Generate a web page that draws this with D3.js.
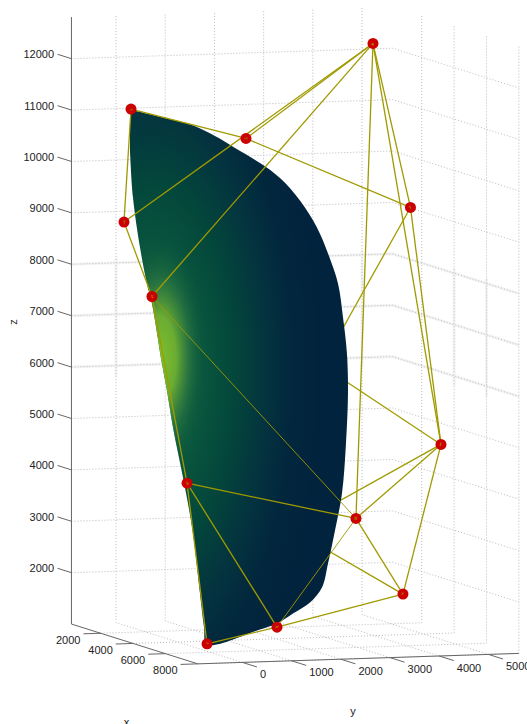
<!DOCTYPE html>
<html><head><meta charset="utf-8">
<style>html,body{margin:0;padding:0;background:#fff}svg{display:block}</style>
<script src="https://cdn.jsdelivr.net/npm/d3@7/dist/d3.min.js"></script>
</head><body><div id="c"></div>
<script>
// ---- data ----
const zTicks = [2000,3000,4000,5000,6000,7000,8000,9000,10000,11000,12000];
const xTicks = [2000,4000,6000,8000];
const yTicks = [0,1000,2000,3000,4000,5000];
const xRange = [200,8000], yRange = [-906,5620], zRange = [1000,12810];
const blurZ = [6000,7000,8000];
// control net
const netX = [2000,2000,4000,6000,8000,4000,6000,4000,4000,4000,4000,6000];
const netY = [-288,-431,-521,-467,-719,1390,1362,3971,4733,3625,5353,3922];
const netZ = [11178,8985,7738,4303,1384,10753,1445,12522,9307,3291,4677,2008];
// two net vertices hidden behind the surface
const hiddenX = [4000,4000];
const hiddenY = [2934,2284];
const hiddenZ = [6289,3138];
// net edges in front of the surface (indices into net*)
const frontEdges = [[0,1],[0,5],[5,8],[1,7],[5,7],[2,7],[1,2],[2,3],[3,4],[3,6],[3,9],[4,6],[6,11],[9,11],[11,10],[9,10],[9,7],[10,7],[8,7],[8,10]];
const thinEdges = [[2,9],[6,9]];
// edges that go behind it: [net index, hidden index]
const backEdges = [[8,0],[10,0],[10,1],[11,1]];
// surface silhouette at x = 4000
const surfaceX = 4000;
const surfaceY = [-968,-256,293,760,1167,1675,2081,2487,2832,3057,3260,3362,3442,3463,3422,3341,3199,3057,2934,2691,2345,2020,1674,597,537,455,313,150,-93,-216,-318,-521,-623,-764,-907,-968];
const surfaceZ = [11390,11202,11049,10820,10574,10267,9962,9513,8977,8464,7874,7210,6507,5728,4757,3786,3071,2433,1970,1686,1482,1298,1192,933,1266,1930,3102,4002,5177,5900,6429,7602,7994,8699,9676,10592];
const shadeOffsets = [0,.3,.5,.68,.82,1];
const shadeColors = ['#0f6242','#0a573e','#03463b','#04343f','#02283d','#02233d'];
const glowOffsets = [0,.35,.65,1];
const glowColors = ['#7fc02c','#70b032','#2f7a40','#0a573e'];
const glowOpacity = [1,.95,.7,0];

// ---- projection built from linear scales ----
const W = 527, H = 724;
const xToPx = d3.scaleLinear().domain([0,8000]).range([0,129.6]);
const yToPx = d3.scaleLinear().domain([0,5000]).range([112.8,358.8]);
const xToPy = d3.scaleLinear().domain([0,8000]).range([0,40.8]);
const yToPy = d3.scaleLinear().domain([0,5000]).range([0,-8]);
const zToPy = d3.scaleLinear().domain([0,10000]).range([673,159]);
const P = (x,y,z) => [xToPx(x)+yToPx(y), xToPy(x)+yToPy(y)+zToPy(z)];

const svg = d3.select('#c').append('svg').attr('width',W).attr('height',H);
const line = d3.line();
const [x0,x1] = xRange, [y0,y1] = yRange, [z0,z1] = zRange;
const path = (g,pts) => g.append('path').attr('d',line(pts)).attr('fill','none');

// ---- background grid ----
const blur = svg.append('g').attr('stroke','#f4f4f4').attr('stroke-width',3);
blurZ.forEach(z => path(blur,[P(x0,y0,z),P(x0,y1,z),P(x1,y1,z)]));
[[x0,0],[x0,5000],[4000,y1],[6000,y1]].forEach(([x,y]) => path(blur,[P(x,y,5800),P(x,y,8100)]));

const grid = svg.append('g').attr('stroke','#bbb').attr('stroke-width',1).attr('stroke-dasharray','1 2');
zTicks.forEach(z => path(grid,[P(x0,y0,z),P(x0,y1,z),P(x1,y1,z)]));
yTicks.forEach(y => path(grid,[P(x1,y,z0),P(x0,y,z0),P(x0,y,z1)]));
xTicks.forEach(x => path(grid,[P(x,y0,z0),P(x,y1,z0),P(x,y1,z1)]));

// ---- axes ----
const ax = svg.append('g').attr('stroke','#666').attr('stroke-width',1);
path(ax,[P(x0,y0,z1),P(x0,y0,z0),P(x1,y0,z0),P(x1,y1,z0)]);
zTicks.forEach(z => path(ax,[P(x0,y0,z),P(x0-860,y0,z)]));
xTicks.forEach(x => path(ax,[P(x,y0,z0),P(x,y0-350,z0)]));
yTicks.forEach(y => path(ax,[P(x1,y,z0),P(x1+900,y,z0)]));

// ---- net edges behind surface ----
const netP = netX.map((x,i) => P(x,netY[i],netZ[i]));
const hidP = hiddenX.map((x,i) => P(x,hiddenY[i],hiddenZ[i]));
const edgeStyle = g => g.attr('stroke','#a09a00').attr('stroke-width',1.3);
const back = svg.append('g').call(edgeStyle);
backEdges.forEach(([a,b]) => path(back,[netP[a],hidP[b]]));

// ---- surface ----
const defs = svg.append('defs');
const shade = defs.append('radialGradient').attr('id','shade').attr('gradientUnits','userSpaceOnUse')
  .attr('cx',0).attr('cy',0).attr('r',1).attr('gradientTransform','translate(150 370) scale(170 380)');
shadeOffsets.forEach((o,i) => shade.append('stop').attr('offset',o).attr('stop-color',shadeColors[i]));
const glow = defs.append('radialGradient').attr('id','glow').attr('gradientUnits','userSpaceOnUse')
  .attr('cx',0).attr('cy',0).attr('r',1).attr('gradientTransform','translate(160 358) scale(46 120)');
glowOffsets.forEach((o,i) => glow.append('stop').attr('offset',o).attr('stop-color',glowColors[i]).attr('stop-opacity',glowOpacity[i]));
const outline = d3.line().curve(d3.curveCatmullRom)(surfaceY.map((y,i) => P(surfaceX,y,surfaceZ[i])))+'Z';
svg.append('path').attr('d',outline).attr('fill','url(#shade)');
svg.append('path').attr('d',outline).attr('fill','url(#glow)');

// ---- front edges, markers, short edge tips inside the markers ----
const front = svg.append('g').call(edgeStyle);
frontEdges.forEach(([a,b]) => path(front,[netP[a],netP[b]]));
const thin = svg.append('g').attr('stroke','#a09a00').attr('stroke-width',.9);
thinEdges.forEach(([a,b]) => path(thin,[netP[a],netP[b]]));
svg.append('g').selectAll('circle').data(netP).join('circle')
  .attr('cx',d=>d[0]).attr('cy',d=>d[1]).attr('r',5.5).attr('fill','#cc0000');
const tips = svg.append('g').attr('stroke','#a09a00').attr('stroke-width',.8).attr('stroke-opacity',.7);
const tip = (a,b) => { const dx=b[0]-a[0], dy=b[1]-a[1], n=Math.hypot(dx,dy);
  path(tips,[a,[a[0]+dx/n*2,a[1]+dy/n*2]]); };
frontEdges.concat(thinEdges).forEach(([a,b]) => { tip(netP[a],netP[b]); tip(netP[b],netP[a]); });

// ---- text ----
const txt = svg.append('g').attr('font-family','"Liberation Sans",Arial,sans-serif').attr('font-size',11).attr('fill','#222');
zTicks.forEach(z => { const p=P(x0-860,y0,z);
  txt.append('text').attr('x',p[0]-3.5).attr('y',p[1]+4).attr('text-anchor','end').text(z); });
xTicks.forEach(x => { const p=P(x,y0-350,z0);
  txt.append('text').attr('x',p[0]-3).attr('y',p[1]+10).attr('text-anchor','end').text(x); });
yTicks.forEach(y => { const p=P(x1+900,y,z0);
  txt.append('text').attr('x',p[0]+3).attr('y',p[1]+11).attr('text-anchor','start').text(y); });
txt.append('text').attr('transform','translate(17,322) rotate(-90)').attr('text-anchor','middle').text('z');
txt.append('text').attr('x',353).attr('y',715).attr('text-anchor','middle').text('y');
txt.append('text').attr('x',126.5).attr('y',726).attr('text-anchor','middle').text('x');
</script></body></html>
